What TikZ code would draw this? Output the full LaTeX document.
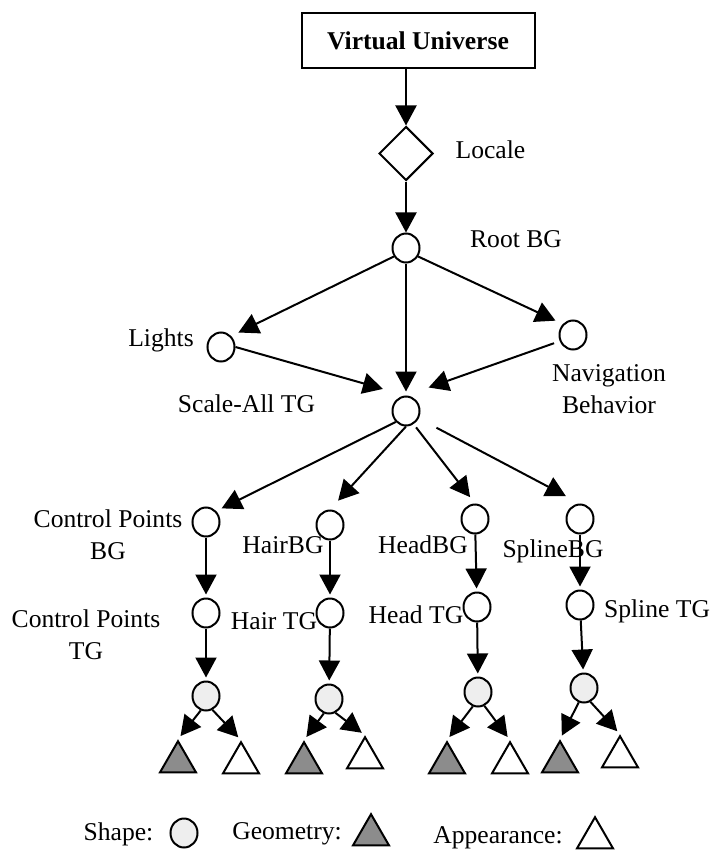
\documentclass[tikz,border=0pt]{standalone}
\usepackage{fontspec}
\setmainfont{Liberation Serif}
\usepackage{tikz}
\usetikzlibrary{shapes.geometric}
\usetikzlibrary{arrows.meta}
\definecolor{shapegray}{RGB}{238,238,238}
\definecolor{geomgray}{RGB}{140,140,140}

\begin{document}
\begin{tikzpicture}[x=0.5pt, y=-0.5pt,
  group/.style={ellipse, draw=black, line width=1pt, minimum width=13.5pt, minimum height=14.5pt, inner sep=0pt},
  shapenode/.style={group, fill=shapegray},
  tri/.style={regular polygon, regular polygon sides=3, draw=black, line width=1pt, minimum size=20.8pt, inner sep=0pt},
  geom/.style={tri, fill=geomgray},
  appear/.style={tri, fill=white},
  txt/.style={font=\fontsize{12.8}{16}\selectfont, inner sep=0pt},
  link/.style={draw=black, line width=1pt, -{Triangle[length=10pt, width=10.5pt]}, shorten >=1.5pt}]
\useasboundingbox (0,0) rectangle (711,850);

% top of the tree
\node[txt, font=\fontsize{12.8}{16}\selectfont\bfseries, draw, line width=1pt, minimum width=116.5pt, minimum height=27.5pt] (vu) at (418,40.5) {Virtual Universe};
\node[diamond, draw, line width=1pt, minimum width=27pt, minimum height=27pt, inner sep=0pt] (locale) at (406,153.5) {};
\node[txt, anchor=base] (locale_lbl) at (490.5,159) {Locale};

\node[group] (root) at (406,248) {};
\node[group] (lights) at (221,347) {};
\node[group] (nav) at (573,335) {};
\node[group] (scale) at (406,411) {};

\node[txt, anchor=base] (root_lbl) at (516,248) {Root BG};
\node[txt, anchor=base] (lights_lbl) at (161,346) {Lights};
\node[txt, align=center] (nav_lbl) at (609,389) {Navigation\\Behavior};
\node[txt, anchor=base] (scale_lbl) at (246.5,412) {Scale-All TG};

% the four branches
\node[group] (cp_bg) at (206,522) {};
\node[group] (hair_bg) at (330,525) {};
\node[group] (head_bg) at (475,519) {};
\node[group] (spline_bg) at (580,519) {};

\node[group] (cp_tg) at (206,613) {};
\node[group] (hair_tg) at (330,613) {};
\node[group] (head_tg) at (477,607) {};
\node[group] (spline_tg) at (580,605) {};

\node[shapenode] (cp_shape) at (206,696) {};
\node[shapenode] (hair_shape) at (329,699) {};
\node[shapenode] (head_shape) at (478,692) {};
\node[shapenode] (spline_shape) at (584,688) {};

\node[txt, align=center] (cp_bg_lbl) at (108,535) {Control Points\\BG};
\node[txt, anchor=base] (hair_bg_lbl) at (283,553) {HairBG};
\node[txt, anchor=base] (head_bg_lbl) at (423,553) {HeadBG};
\node[txt, anchor=base] (spline_bg_lbl) at (553,557) {SplineBG};

\node[txt, align=center] (cp_tg_lbl) at (86,635) {Control Points\\TG};
\node[txt, anchor=base] (hair_tg_lbl) at (274,629) {Hair TG};
\node[txt, anchor=base] (head_tg_lbl) at (416,623) {Head TG};
\node[txt, anchor=base] (spline_tg_lbl) at (657,617) {Spline TG};

\foreach \name/\x/\y in {cp_geo/178/762, hair_geo/304/763, head_geo/447/763, spline_geo/560/762}
  \node[geom] (\name) at (\x,\y) {};
\foreach \name/\x/\y in {cp_app/241/763, hair_app/365/758, head_app/510/763, spline_app/620/757}
  \node[appear] (\name) at (\x,\y) {};

% legend
\node[txt, anchor=base] (key_shape_lbl) at (118.5,840) {Shape:};
\node[shapenode] (key_shape) at (184,833) {};
\node[txt, anchor=base] (key_geo_lbl) at (287,839) {Geometry:};
\node[geom] (key_geo) at (371,835) {};
\node[txt, anchor=base] (key_app_lbl) at (498,843) {Appearance:};
\node[appear] (key_app) at (595,838) {};

% arrows
\draw[link, shorten >=0pt] (vu.south -| locale.north) -- (locale.north);
\draw[link, shorten >=0pt] (locale) -- (root);
\draw[link, shorten >=4pt] (root.215) -- (lights.north east);
\draw[link, shorten >=4pt] (root.-35) -- (nav.north west);
\draw[link, shorten >=2pt] (root) -- (scale);
\draw[link, shorten >=12pt] (lights.east) -- (scale.north);
\draw[link, shorten >=12pt, shorten <=3pt] (nav.205) -- (scale.north);

\draw[link, shorten >=3pt] (scale.south west) -- (cp_bg.north east);
\draw[link, shorten >=6pt] (scale.south) -- (hair_bg.north);
\draw[link, shorten >=4pt, shorten <=2pt] (scale.-60) -- (head_bg.north);
\draw[link, shorten >=8pt, shorten <=10pt] (scale.-30) -- (spline_bg.north);

\foreach \col in {cp, hair, head, spline} {
  \draw[link] (\col_bg) -- (\col_tg);
  \draw[link] (\col_tg) -- (\col_shape);
  \draw[link, shorten >=2pt] (\col_shape.-110) -- (\col_geo.corner 1);
  \draw[link, shorten >=2pt] (\col_shape.-65) -- (\col_app.corner 1);
}

\end{tikzpicture}
\end{document}
